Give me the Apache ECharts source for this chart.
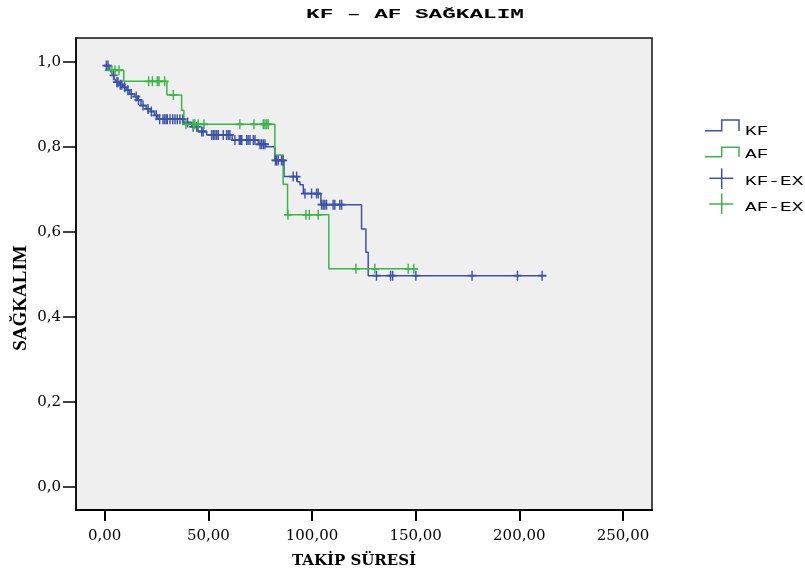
<!DOCTYPE html>
<html>
<head>
<meta charset="utf-8">
<script src="https://cdn.jsdelivr.net/npm/echarts@6/dist/echarts.min.js"></script>
<style>
html,body{margin:0;padding:0;background:#fff;}
#c{width:805px;height:574px;}
</style>
</head>
<body>
<div id="c"></div>
<script>
// ---- data ----
var title = 'KF – AF SAĞKALIM';
var xName = 'TAKİP SÜRESİ';
var yName = 'SAĞKALIM';
var seriesNames = ['KF', 'AF', 'KF-EX', 'AF-EX'];

// Kaplan-Meier steps: [time, survival]
var kfSteps = [
  [0, 0.991], [2.4, 0.983], [3.2, 0.975], [4.0, 0.968], [4.8, 0.960], [5.6, 0.952],
  [7.2, 0.946], [8.8, 0.940], [10.4, 0.933], [12.0, 0.924], [14.4, 0.918], [16.0, 0.910],
  [17.5, 0.897], [20.0, 0.889], [22.4, 0.883], [24.0, 0.874], [25.6, 0.865], [38.0, 0.857],
  [42.0, 0.847], [45.0, 0.836], [49.2, 0.828], [61.5, 0.816], [74.1, 0.806], [77.6, 0.800],
  [82.1, 0.768], [86.5, 0.730], [92.9, 0.718], [94.2, 0.711], [95.8, 0.690], [104.3, 0.664],
  [123.9, 0.607], [126.0, 0.552], [127.1, 0.497], [213.1, 0.497]
];
var afSteps = [
  [0, 0.980], [9.2, 0.954], [30.0, 0.922], [37.1, 0.886], [38.2, 0.853], [82.1, 0.781],
  [86.1, 0.712], [88.2, 0.640], [108.1, 0.513], [151.2, 0.513]
];
// censored times
var kfCensor = [
  0.8, 1.6, 4.3, 5.9, 6.4, 7.5, 8.3, 9.6, 11.2, 12.8, 15.2, 16.3, 18.5, 20.9, 22.5, 24.9,
  26.5, 28.1, 28.9, 29.7, 30.2, 31.5, 32.8, 33.9, 35.0, 36.3, 37.6, 40.0, 42.7, 44.4, 46.8,
  47.5, 51.6, 52.4, 53.2, 54.0, 54.8, 57.2, 58.8, 59.6, 60.4, 62.8, 64.9, 65.6, 66.1, 68.5,
  69.2, 70.1, 71.7, 72.5, 74.9, 75.7, 76.5, 77.3, 82.4, 82.9, 83.7, 85.3, 86.1, 90.9, 92.6,
  96.6, 99.8, 102.2, 103.0, 104.6, 105.4, 106.2, 107.0, 110.2, 111.0, 113.4, 114.3, 131.1,
  137.9, 138.9, 150.1, 177.2, 199.1, 211.0
];
var afCensor = [
  3.5, 5.0, 6.9, 21.2, 23.0, 25.4, 26.2, 28.9, 33.1, 39.2, 42.7, 43.5, 45.1, 47.9, 65.2,
  72.0, 76.5, 77.3, 78.1, 78.9, 88.4, 97.1, 98.7, 103.0, 121.2, 130.3, 146.4, 149.1
];
var xTickValues = [0, 50, 100, 150, 200, 250];
var xTickLabels = ['0,00', '50,00', '100,00', '150,00', '200,00', '250,00'];
var yTickValues = [0, 0.2, 0.4, 0.6, 0.8, 1.0];
var yTickLabels = ['0,0', '0,2', '0,4', '0,6', '0,8', '1,0'];

// ---- styles ----
var BLUE = '#3b52a8', GREEN = '#3cb449';
function survAt(steps, t) {
  var s = steps[0][1];
  for (var i = 0; i < steps.length; i++) { if (steps[i][0] <= t) s = steps[i][1]; }
  return s;
}
function censorPts(steps, times) { return times.map(function (t) { return [t, survAt(steps, t)]; }); }
function lbl(vals, labels) {
  return function (v) {
    for (var i = 0; i < vals.length; i++) if (Math.abs(vals[i] - v) < 1e-6) return labels[i];
    return '';
  };
}
var plus = 'path://M0,5L10,5M5,0L5,10';

var chart = echarts.init(document.getElementById('c'), null, {renderer: 'canvas'});
chart.setOption({
  animation: false,
  backgroundColor: '#ffffff',
  grid: {left: 76, top: 38, width: 576, height: 473, show: true, backgroundColor: '#efefef',
         borderColor: '#111', borderWidth: 1.5},
  xAxis: {
    type: 'value', min: -13.84, max: 264.0,
    name: xName, nameLocation: 'middle', nameGap: 44,
    nameTextStyle: {fontFamily: 'DejaVu Serif', fontWeight: 'bold', fontSize: 15, color: '#000', padding: [0, 20, 0, 0]},
    axisLine: {show: true, onZero: false, lineStyle: {color: '#000', width: 2}},
    axisTick: {show: true, customValues: xTickValues, length: 11, lineStyle: {color: '#000', width: 2}},
    axisLabel: {customValues: xTickValues, formatter: lbl(xTickValues, xTickLabels), margin: 19,
                fontFamily: 'DejaVu Serif', fontSize: 15, color: '#000'},
    splitLine: {show: false}
  },
  yAxis: {
    type: 'value', min: -0.0539, max: 1.0558,
    axisLine: {show: true, onZero: false, lineStyle: {color: '#000', width: 1.5}},
    axisTick: {show: true, customValues: yTickValues, length: 13, lineStyle: {color: '#000', width: 1.5}},
    axisLabel: {customValues: yTickValues, formatter: lbl(yTickValues, yTickLabels), margin: 15,
                fontFamily: 'DejaVu Serif', fontSize: 15, color: '#000'},
    splitLine: {show: false}
  },
  series: [
    {name: seriesNames[0], type: 'line', step: 'end', data: kfSteps, showSymbol: false,
     lineStyle: {color: BLUE, width: 1.5}, itemStyle: {color: BLUE}, z: 2},
    {name: seriesNames[1], type: 'line', step: 'end', data: afSteps, showSymbol: false,
     lineStyle: {color: GREEN, width: 1.5}, itemStyle: {color: GREEN}, z: 3},
    {name: seriesNames[2], type: 'scatter', data: censorPts(kfSteps, kfCensor), symbol: plus,
     symbolSize: [8, 10], itemStyle: {color: 'none', borderColor: BLUE, borderWidth: 1.6, opacity: 1}, z: 4},
    {name: seriesNames[3], type: 'scatter', data: censorPts(afSteps, afCensor), symbol: plus,
     symbolSize: [8, 10], itemStyle: {color: 'none', borderColor: GREEN, borderWidth: 1.6, opacity: 1}, z: 5}
  ],
  graphic: [
    {type: 'text', x: 415, y: 15, scaleX: 1.89, style: {text: title, x: 0, y: 0, align: 'center', verticalAlign: 'middle',
      font: 'bold 12px "Liberation Mono"', fill: '#000'}},
    {type: 'text', x: 21, y: 298, rotation: Math.PI / 2, style: {text: yName, x: 0, y: 0, align: 'center', verticalAlign: 'middle',
      font: 'bold 19px "Liberation Serif"', fill: '#000'}},
    {type: 'polyline', shape: {points: [[705, 130.7], [721.7, 130.7], [721.7, 120], [739, 120], [739, 131]]},
      style: {stroke: BLUE, lineWidth: 1.5, fill: null}},
    {type: 'polyline', shape: {points: [[705, 156.7], [721.7, 156.7], [721.7, 147.3], [739, 147.3], [739, 157]]},
      style: {stroke: GREEN, lineWidth: 1.5, fill: null}},
    {type: 'polyline', shape: {points: [[721.7, 168.3], [721.7, 189]]}, style: {stroke: BLUE, lineWidth: 1.5, fill: null}},
    {type: 'polyline', shape: {points: [[709.3, 178.3], [733.3, 178.3]]}, style: {stroke: BLUE, lineWidth: 1.5, fill: null}},
    {type: 'polyline', shape: {points: [[721.7, 193.3], [721.7, 214]]}, style: {stroke: GREEN, lineWidth: 1.5, fill: null}},
    {type: 'polyline', shape: {points: [[709.3, 204], [733.3, 204]]}, style: {stroke: GREEN, lineWidth: 1.5, fill: null}},
    {type: 'text', x: 745, y: 131.5, scaleX: 1.62, style: {text: seriesNames[0], x: 0, y: 0, verticalAlign: 'middle', font: '12px "Liberation Mono"', fill: '#000'}},
    {type: 'text', x: 745, y: 154.7, scaleX: 1.62, style: {text: seriesNames[1], x: 0, y: 0, verticalAlign: 'middle', font: '12px "Liberation Mono"', fill: '#000'}},
    {type: 'text', x: 745, y: 181.7, scaleX: 1.62, style: {text: seriesNames[2], x: 0, y: 0, verticalAlign: 'middle', font: '12px "Liberation Mono"', fill: '#000'}},
    {type: 'text', x: 745, y: 208.3, scaleX: 1.62, style: {text: seriesNames[3], x: 0, y: 0, verticalAlign: 'middle', font: '12px "Liberation Mono"', fill: '#000'}}
  ]
});
</script>
</body>
</html>
